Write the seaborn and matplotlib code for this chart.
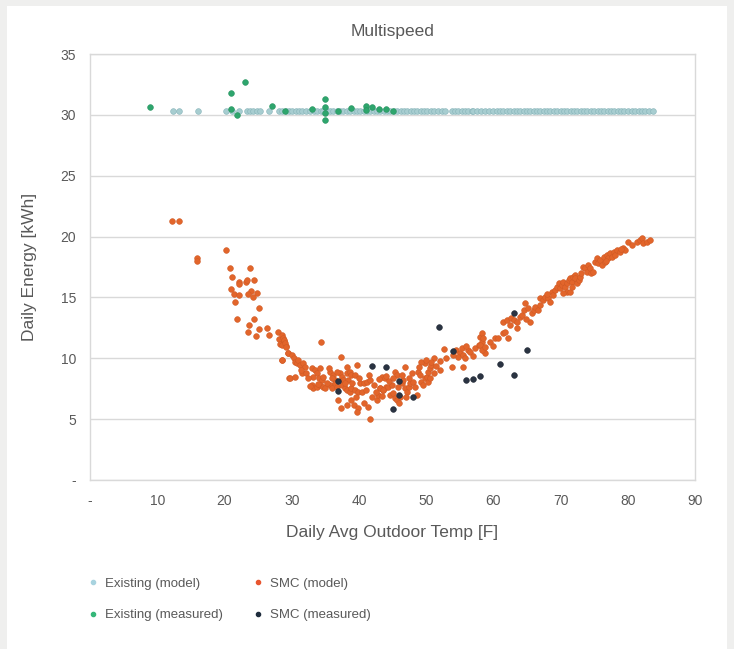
import matplotlib
matplotlib.use("Agg")
import matplotlib.pyplot as plt
from matplotlib.lines import Line2D
from matplotlib.patches import Rectangle
import seaborn as sns
import pandas as pd

# ---------------- data ----------------
existing_model_x = [12.4, 13.3, 16.0, 20.2, 21.1, 22.2, 23.3, 23.8, 24.3, 24.8, 25.3, 26.6,
                    28.1, 28.6, 29.1, 29.6, 30.1, 30.6, 31.1, 31.6, 32.1, 32.7, 33.3, 33.8,
                    34.3, 34.7, 35.2, 35.7, 36.2, 36.7, 37.2, 37.7, 38.2, 38.7, 39.2, 39.7,
                    40.2, 40.7, 41.2, 41.7, 42.2, 42.7, 43.2, 43.7, 44.2, 44.7, 45.2, 45.7,
                    46.2, 46.7, 47.2, 47.7, 48.2, 48.7, 49.2, 49.7, 50.2, 50.7, 51.2, 51.8,
                    52.3, 52.8, 53.8, 54.3, 54.8, 55.3, 55.8, 56.3, 56.8, 57.0, 57.6, 58.1,
                    58.7, 59.3, 60.0, 60.5, 61.0, 61.5, 62.0, 62.5, 63.0, 63.5, 64.0, 64.5,
                    65.0, 65.5, 66.0, 66.5, 67.0, 67.5, 68.0, 68.5, 69.0, 69.5, 70.0, 70.5,
                    71.0, 71.5, 72.0, 72.5, 73.0, 73.5, 74.0, 74.5, 75.0, 75.5, 76.0, 76.5,
                    77.0, 77.5, 78.0, 78.5, 79.0, 79.5, 80.0, 80.6, 81.1, 81.6, 82.1, 82.6,
                    83.1, 83.8]
existing_model_level = 30.35  # model energy is flat across temperatures

existing_meas_x = [8.9, 23.0, 21.0, 21.0, 21.9, 27.0, 29.0, 33.0, 35.0, 35.0, 35.0, 35.0,
                   36.9, 38.9, 41.0, 42.0, 43.0, 44.0, 41.0, 45.0]
existing_meas_y = [30.67, 32.7, 31.8, 30.5, 30.0, 30.7, 30.35, 30.5, 31.28, 30.67, 30.13, 29.55,
                   30.35, 30.6, 30.75, 30.67, 30.5, 30.5, 30.4, 30.35]

smc_model_x = [
    12.25, 13.3, 15.9, 15.9, 20.2, 20.8, 23.8, 21.1, 22.2, 22.2, 23.2, 23.4, 24.4, 21.0, 21.4,
    22.1, 23.9, 23.5, 24.9, 24.3, 21.6, 25.2, 21.9, 24.4, 23.7, 23.5, 25.1, 24.7, 26.4, 26.7,
    28.0, 28.1, 28.3, 28.6, 28.9, 29.2, 28.7, 28.5, 28.6, 29.5, 29.6,
    28.8, 29.0, 29.2, 28.5, 34.3, 29.5, 30.0, 30.3, 30.5, 30.8, 31.0, 31.2, 31.7, 32.0, 31.5,
    32.2, 29.8, 33.0, 33.5, 33.7, 34.2, 33.2, 34.0, 34.5, 34.7, 33.0, 33.2, 33.7, 34.2, 34.7,
    35.0, 35.7, 36.2, 36.5, 37.2, 37.5, 37.7, 38.2, 38.7, 38.4, 38.9, 39.4, 39.7, 38.2, 37.3,
    35.7, 36.0, 36.5, 36.7, 37.5, 38.0, 38.2, 38.7, 38.9, 39.4, 39.9, 40.2, 40.7, 41.2, 41.7,
    42.2, 36.9, 37.4, 38.2, 38.9, 39.2, 39.9, 39.7, 40.7, 41.4, 41.9, 42.7, 42.9, 43.1, 43.6,
    44.1, 41.6,
    43.4, 43.9, 44.1, 43.1, 43.6, 44.4, 44.9, 45.4, 45.6, 44.6, 45.1, 45.4, 45.6, 45.9, 46.1,
    46.4, 46.6, 46.9, 47.1, 47.4, 47.6, 47.9, 46.9, 46.4, 48.1, 48.6, 48.8, 49.1, 49.3, 49.6,
    49.8, 50.1, 50.3, 50.6, 50.8, 51.1, 51.1, 50.8, 49.8, 49.3, 50.3, 50.6, 52.1, 52.1, 52.6,
    53.8, 54.5, 55.0, 54.8, 55.3, 55.5, 55.8, 56.3, 56.5, 55.5, 57.3, 57.8, 58.0, 58.3, 58.5,
    58.8, 58.3,
    58.5, 58.0, 58.3, 58.8, 60.3, 60.7, 61.5, 61.7, 62.2, 61.5, 62.0, 62.5, 62.7, 63.0, 63.5,
    64.0, 64.2, 64.5, 64.7, 65.2, 65.5, 65.7, 66.0, 66.2, 66.7, 66.9, 67.4, 67.7, 68.2, 68.4,
    68.7, 68.9, 69.2, 69.4, 69.7, 69.9, 70.2, 70.4, 70.7, 70.9, 71.2, 71.4, 71.7, 71.9, 72.2,
    72.4, 70.9, 70.4,
    71.4, 71.7, 72.2, 72.4, 72.7, 72.9, 73.4, 73.6, 73.9, 74.1, 74.4, 74.6, 74.9, 75.1, 75.4,
    75.6, 75.9, 76.1, 76.4, 76.6, 76.9, 77.1, 77.4, 77.6, 77.9, 78.1, 78.4, 78.9, 79.3, 79.6,
    80.1, 81.3, 81.8, 82.1, 82.3, 82.8, 83.3,
    30.5, 31.4, 32.5, 32.8, 33.9, 35.3, 35.5, 36.0, 36.8, 37.9, 39.0, 39.5, 40.0, 40.5, 41.0,
    41.5, 42.5, 43.0, 43.5, 44.5, 45.0, 45.8, 47.0, 47.5, 48.4, 49.0, 50.0, 51.5, 53.0, 54.0,
    56.0, 57.0, 59.5, 60.0, 63.5, 64.8, 67.0, 68.0, 73.0, 76.8, 79.0, 80.6]
smc_model_y = [
    21.28, 21.28, 18.2, 18.0, 18.9, 17.4, 17.4, 16.65, 16.3, 16.1, 16.3, 16.4, 16.4, 15.7, 15.3,
    15.2, 15.55, 15.3, 15.4, 15.0, 14.6, 14.1, 13.2, 13.2, 12.7, 12.2, 12.4, 11.8, 12.5, 11.9,
    12.2, 11.6, 11.2, 11.9, 11.4, 11.0, 11.7, 11.1, 9.86, 10.4, 8.4,
    11.51, 11.23, 10.96, 9.86, 11.32, 10.41, 10.28, 10.0, 9.73, 9.59, 9.87, 9.45, 9.59, 9.32, 8.77,
    8.77, 8.36, 9.18, 9.04, 8.77, 9.18, 8.49, 8.36, 8.22, 8.49, 7.81, 7.54, 7.67, 7.81, 7.67,
    7.54, 8.91, 8.63, 8.22, 8.77, 8.49, 8.22, 8.77, 8.91, 8.22, 8.63, 8.63, 9.45, 9.32, 10.08,
    7.81, 7.54, 7.95, 7.67, 7.81, 7.54, 7.40, 7.26, 7.54, 7.40, 7.26, 7.95, 7.95, 8.08, 8.22,
    7.81, 6.58, 5.89, 6.17, 6.58, 6.17, 5.89, 5.62, 6.30, 6.03, 6.85, 6.58, 6.99, 7.54, 7.40,
    7.67, 4.99,
    8.49, 8.35, 8.54, 7.53, 7.39, 7.67, 7.80, 8.90, 8.63, 6.98, 7.12, 6.71, 6.57, 6.30, 6.84,
    7.94, 8.21, 7.53, 7.26, 7.67, 7.94, 8.76, 9.31, 8.63, 8.08, 6.98, 8.90, 8.63, 8.08, 7.80,
    8.35, 8.49, 8.90, 9.17, 9.45, 8.76, 9.99, 9.72, 9.58, 9.72, 8.08, 8.35, 9.78, 9.04, 10.74,
    9.31, 10.68, 10.41, 10.13, 10.82, 10.27, 9.99, 10.68, 10.54, 9.31, 10.82, 11.09, 11.78, 11.37, 10.68,
    10.41, 12.05,
    11.64, 11.09, 10.68, 10.95, 11.64, 11.64, 12.05, 12.19, 11.64, 13.01, 13.15, 12.74, 13.28, 13.15, 13.01,
    13.42, 13.56, 13.97, 14.52, 14.11, 13.01, 13.69, 13.97, 14.24, 13.97, 14.93, 14.79, 15.06, 14.93, 14.65,
    15.48, 15.20, 15.61, 15.89, 16.16, 15.75, 16.02, 16.30, 15.89, 16.16, 16.43, 16.57, 16.30, 16.71, 16.85,
    16.43, 15.48, 15.34,
    15.47, 15.88, 16.57, 16.16, 16.43, 16.70, 17.53, 17.39, 17.11, 17.67, 17.39, 16.98, 17.11, 17.94, 18.21,
    17.80, 18.07, 17.67, 18.35, 17.94, 18.49, 18.21, 18.62, 18.35, 18.76, 18.49, 18.90, 18.76, 19.03, 18.90,
    19.58, 19.58, 19.72, 19.85, 19.44, 19.58, 19.72,
    8.5, 9.0, 8.4, 7.7, 7.9, 8.0, 9.2, 8.4, 8.9, 8.0, 8.0, 6.8, 8.4, 7.2, 7.4,
    8.6, 7.2, 8.3, 6.9, 8.1, 8.4, 7.6, 6.8, 8.4, 7.6, 9.3, 9.9, 9.4, 10.0, 10.3,
    11.0, 10.2, 11.3, 11.0, 12.5, 13.2, 14.4, 15.3, 17.0, 18.0, 19.0, 19.3]

smc_meas_x = [36.9, 36.9, 42.0, 44.0, 45.0, 46.0, 46.0, 48.0, 51.9, 54.0, 56.0, 57.0, 58.0,
              61.0, 63.0, 63.0, 65.0]
smc_meas_y = [8.1, 7.3, 9.4, 9.3, 5.8, 8.1, 7.0, 6.85, 12.6, 10.6, 8.2, 8.3, 8.55,
              9.5, 13.7, 8.6, 10.65]

series_names = ["Existing (model)", "Existing (measured)", "SMC (model)", "SMC (measured)"]
x_ticks = [0, 10, 20, 30, 40, 50, 60, 70, 80, 90]
x_tick_labels = ["-", "10", "20", "30", "40", "50", "60", "70", "80", "90"]
y_ticks = [0, 5, 10, 15, 20, 25, 30, 35]
y_tick_labels = ["-", "5", "10", "15", "20", "25", "30", "35"]

# ---------------- styling ----------------
sns.set_theme(style="white")
plt.rcParams["font.family"] = ["Liberation Sans", "DejaVu Sans"]
text_color = "#595959"
grid_color = "#d9d9d9"

fill_colors = {
    "Existing (model)": "#a7cdd0",
    "Existing (measured)": "#2ea56d",
    "SMC (model)": "#e2652b",
    "SMC (measured)": "#2a3342",
}
edge_colors = {
    "Existing (model)": "#86b3b8",
    "Existing (measured)": "#27935f",
    "SMC (model)": "#d05a25",
    "SMC (measured)": "#222a36",
}
legend_colors = {
    "Existing (model)": "#a8d3df",
    "Existing (measured)": "#35b779",
    "SMC (model)": "#e8552f",
    "SMC (measured)": "#1f2d3d",
}

df = pd.concat([
    pd.DataFrame({"x": existing_model_x,
                  "y": [existing_model_level] * len(existing_model_x),
                  "series": series_names[0]}),
    pd.DataFrame({"x": existing_meas_x, "y": existing_meas_y, "series": series_names[1]}),
    pd.DataFrame({"x": smc_model_x, "y": smc_model_y, "series": series_names[2]}),
    pd.DataFrame({"x": smc_meas_x, "y": smc_meas_y, "series": series_names[3]}),
], ignore_index=True)

fig = plt.figure(figsize=(7.34, 6.49), dpi=100)
fig.patch.set_facecolor("#efefee")
fig.patches.append(Rectangle((7 / 734, 0), 720 / 734, 643 / 649, transform=fig.transFigure,
                             facecolor="white", edgecolor="none", zorder=-10))

ax = fig.add_axes([90 / 734, 1 - 480 / 649, 605 / 734, 426 / 649])
ax.set_facecolor("white")

for name in series_names:
    sub = df[df["series"] == name]
    sns.scatterplot(data=sub, x="x", y="y", ax=ax, color=fill_colors[name],
                    edgecolor=edge_colors[name], linewidth=0.4, s=17, legend=False,
                    zorder=3)

ax.set_xlim(0, 90)
ax.set_ylim(0, 35)
ax.set_xticks(x_ticks)
ax.set_xticklabels(x_tick_labels)
ax.set_yticks(y_ticks)
ax.set_yticklabels(y_tick_labels)
ax.tick_params(axis="both", length=0, labelsize=10, colors=text_color)
ax.tick_params(axis="y", pad=10)
ax.tick_params(axis="x", pad=10)
ax.yaxis.grid(True, color=grid_color, linewidth=1)
ax.xaxis.grid(False)
ax.set_axisbelow(True)
for sp in ax.spines.values():
    sp.set_visible(True)
    sp.set_color(grid_color)
    sp.set_linewidth(1)

ax.set_title("Multispeed", fontsize=12.5, color=text_color, pad=13)
ax.set_xlabel("Daily Avg Outdoor Temp [F]", fontsize=12.5, color=text_color, labelpad=12)
ax.set_ylabel("Daily Energy [kWh]", fontsize=12.5, color=text_color, labelpad=17)

handles = [Line2D([], [], linestyle="none", marker="o", markersize=3,
                  markerfacecolor=legend_colors[n], markeredgecolor=legend_colors[n], label=n)
           for n in series_names]
fig.legend(handles=handles, loc="upper left", bbox_to_anchor=(74.5 / 734, 1 - 566 / 649),
           ncol=2, frameon=False, fontsize=9.5, labelcolor=text_color,
           handletextpad=0.4, columnspacing=2.15, labelspacing=1.45, handlelength=1.0)

fig.savefig("out.png", dpi=100, facecolor=fig.get_facecolor())
